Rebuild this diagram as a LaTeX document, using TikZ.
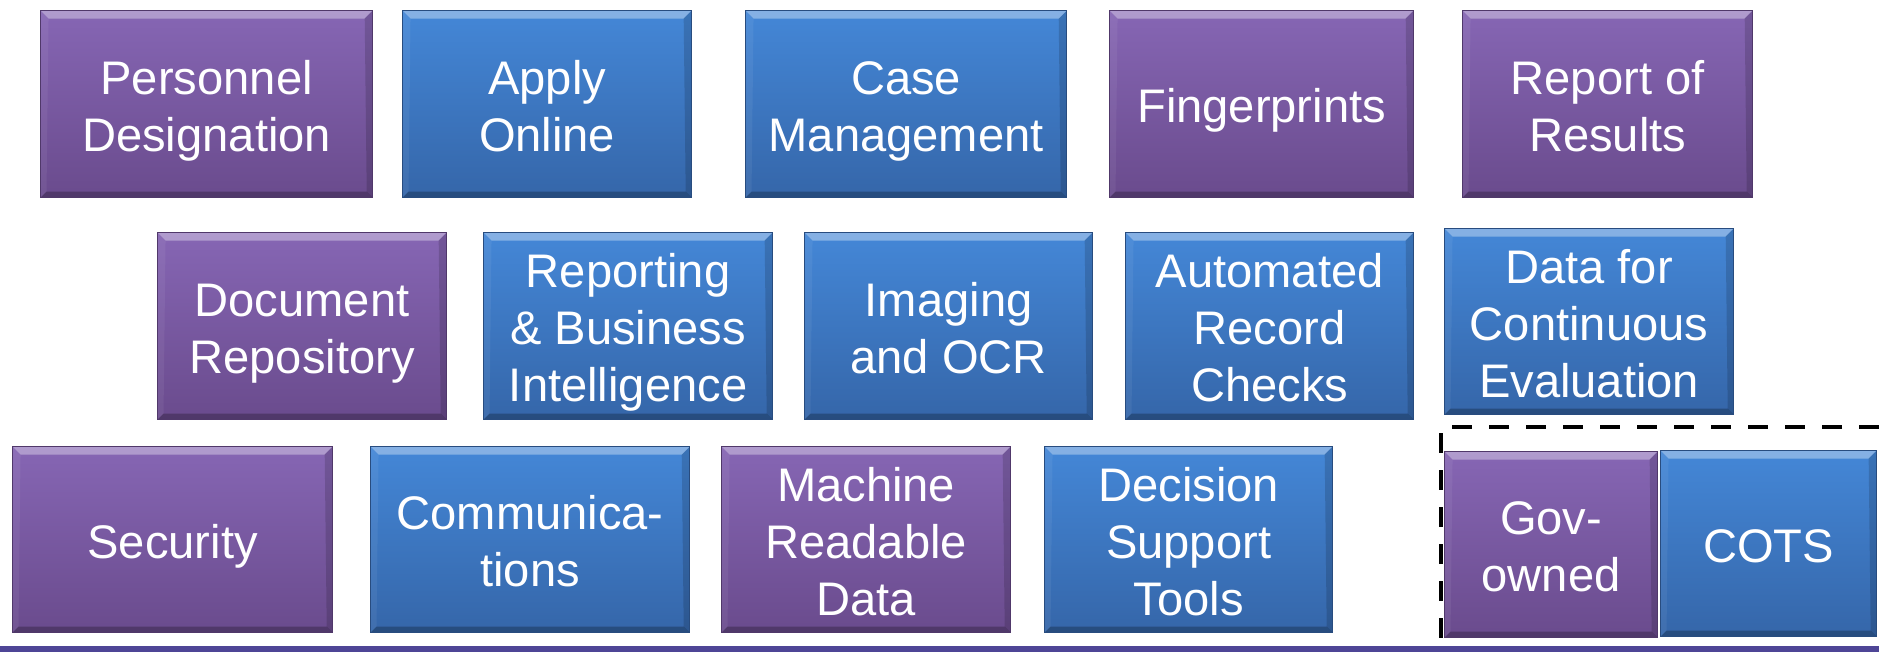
\documentclass[tikz,border=0pt]{standalone}
\usepackage{fontspec}
\setmainfont{Liberation Sans}
\usetikzlibrary{positioning,calc}

\definecolor{purpTop}{HTML}{8666B4}
\definecolor{purpBot}{HTML}{6A4B8D}
\definecolor{blueTop}{HTML}{4487D7}
\definecolor{blueBot}{HTML}{3566A9}
\definecolor{barPurple}{HTML}{4E4596}

\begin{document}
\begin{tikzpicture}[
  x=0.01cm, y=-0.01cm,
  font=\fontsize{13.4}{16.2}\selectfont,
  blk/.style={anchor=north west, inner sep=0pt, align=center, text=white, minimum height=1.87cm, line width=0.3pt, bevel,
    text height=13.5pt, text depth=3pt},
  two/.style={text height=29.7pt},
  three/.style={text height=45.9pt},
  purp/.style={blk, top color=purpTop, bottom color=purpBot, draw=purpBot!75!black},
  blu/.style={blk, top color=blueTop, bottom color=blueBot, draw=blueBot!75!black},
  bevel/.style={path picture={
    \fill[white, opacity=.35] (path picture bounding box.north west) -- (path picture bounding box.north east)
      -- ++(-0.08cm,-0.08cm) -- ($(path picture bounding box.north west)+(0.08cm,-0.08cm)$) -- cycle;
    \fill[black, opacity=.25] (path picture bounding box.south west) -- (path picture bounding box.south east)
      -- ++(-0.06cm,0.06cm) -- ($(path picture bounding box.south west)+(0.06cm,0.06cm)$) -- cycle;
    \fill[white, opacity=.06] (path picture bounding box.north west) -- ++(0.08cm,-0.08cm)
      -- ($(path picture bounding box.south west)+(0.06cm,0.06cm)$) -- (path picture bounding box.south west) -- cycle;
    \fill[black, opacity=.15] (path picture bounding box.north east) -- ++(-0.08cm,-0.08cm)
      -- ($(path picture bounding box.south east)+(-0.06cm,0.06cm)$) -- (path picture bounding box.south east) -- cycle;
  }},
  legendframe/.style={draw=black, line width=1.4pt, dash pattern=on 0.2cm off 0.17cm}
]
\useasboundingbox (0,0) rectangle (1879,652);

% Row 1
\node[purp, two, minimum width=3.32cm] (persdes) at (40,10) {Personnel\\Designation};
\node[blu, two, minimum width=2.89cm] (applyonl) at (402,10) {Apply\\Online};
\node[blu, two, minimum width=3.21cm] (casemgmt) at (745,10) {Case\\Management};
\node[purp, minimum width=3.04cm] (fprints) at (1109,10) {Fingerprints};
\node[purp, two, minimum width=2.90cm] (results) at (1462,10) {Report of\\Results};

% Row 2
\node[purp, two, minimum width=2.89cm] (docrepo) at (157,232) {Document\\Repository};
\node[blu, three, minimum width=2.89cm] (repbi) at (483,232) {Reporting\\\& Business\\Intelligence};
\node[blu, two, minimum width=2.88cm] (imgocr) at (804,232) {Imaging\\and OCR};
\node[blu, three, minimum width=2.88cm] (autorec) at (1125,232) {Automated\\Record\\Checks};
\node[blu, three, minimum width=2.89cm, minimum height=1.86cm] (contev) at (1444,228) {Data for\\Continuous\\Evaluation};

% Row 3
\node[purp, minimum width=3.20cm, minimum height=1.86cm] (security) at (12,446) {Security};
\node[blu, two, minimum width=3.19cm, minimum height=1.86cm] (comms) at (370,446) {Communica-\\tions};
\node[purp, three, minimum width=2.89cm, minimum height=1.86cm] (mrdata) at (721,446) {Machine\\Readable\\Data};
\node[blu, three, minimum width=2.88cm, minimum height=1.86cm] (dectools) at (1044,446) {Decision\\Support\\Tools};

% Legend (bottom right)
\node[purp, two, minimum width=2.13cm, minimum height=1.86cm] (govown) at (1444,451) {Gov-\\owned};
\node[blu, minimum width=2.16cm, minimum height=1.86cm] (cots) at (1660,450) {COTS};

% Bottom bar and dashed legend frame
\fill[barPurple] (0,646) rectangle (1879,652);
\draw[legendframe] (1879,427) -| (1441,652);

\end{tikzpicture}
\end{document}
